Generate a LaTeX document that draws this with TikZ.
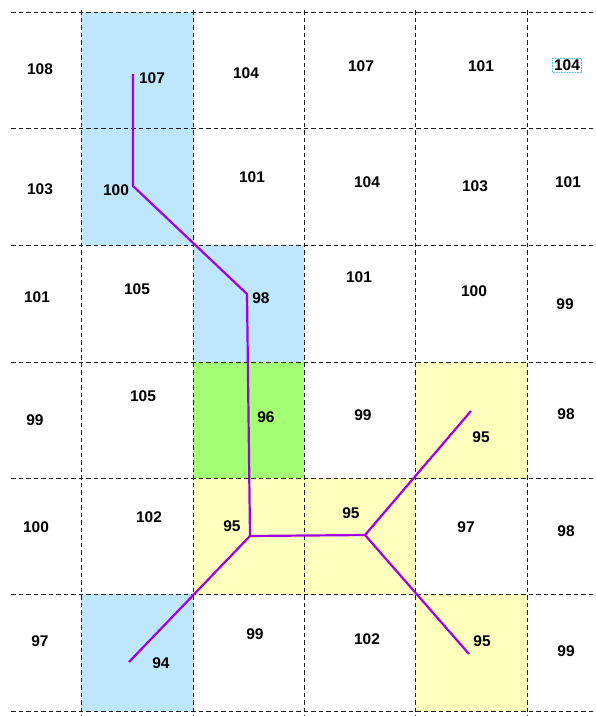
\documentclass[tikz,border=0pt]{standalone}
\usepackage{fontspec}
\setmainfont{Liberation Sans}
\usetikzlibrary{arrows.meta}
\definecolor{cellblue}{RGB}{190,230,253}
\definecolor{cellgreen}{RGB}{163,255,115}
\definecolor{cellyellow}{RGB}{255,255,190}
\definecolor{pathviolet}{RGB}{162,0,228}
\definecolor{gridgray}{RGB}{30,30,30}

\begin{document}
\begin{tikzpicture}[x=1pt, y=-1pt, font=\fontsize{15.5}{18}\selectfont\bfseries,
  grid/.style={gridgray, line width=0.9pt, dash pattern=on 4.5pt off 3pt},
  route/.style={pathviolet, line width=2.2pt, line join=round}]
  \useasboundingbox (0,0) rectangle (596,716);
  \fill[cellblue] (81,12) rectangle (193,245);
  \fill[cellblue] (193,245) rectangle (304,362);
  \fill[cellblue] (81,594) rectangle (193,711);
  \fill[cellgreen] (193,362) rectangle (304,478);
  \fill[cellyellow] (193,478) rectangle (415,594);
  \fill[cellyellow] (415,362) rectangle (527,478);
  \fill[cellyellow] (415,594) rectangle (527,711);
  \draw[grid] (11,12) -- (596,12);
  \draw[grid] (11,128) -- (596,128);
  \draw[grid] (11,245) -- (596,245);
  \draw[grid] (11,362) -- (596,362);
  \draw[grid] (11,478) -- (596,478);
  \draw[grid] (11,594) -- (596,594);
  \draw[grid] (11,711) -- (596,711);
  \draw[grid] (81,10) -- (81,716);
  \draw[grid] (193,10) -- (193,716);
  \draw[grid] (304,10) -- (304,716);
  \draw[grid] (415,10) -- (415,716);
  \draw[grid] (527,10) -- (527,716);
  \coordinate (p107) at (133,74);
  \coordinate (p100) at (133,186);
  \coordinate (p98) at (247,294);
  \coordinate (p95a) at (250,536);
  \coordinate (p95b) at (365,535);
  \coordinate (p94) at (129,662);
  \coordinate (p95c) at (471,411);
  \coordinate (p95d) at (469,654);
  \draw[route] (p107) -- (p100) -- (p98) -- (p95a) -- (p95b);
  \draw[route] (p95a) -- (p94);
  \draw[route] (p95b) -- (p95c);
  \draw[route] (p95b) -- (p95d);
  \node (v00) at (40,69) {108};
  \node (v01) at (152,78) {107};
  \node (v02) at (246,73) {104};
  \node (v03) at (361,66) {107};
  \node (v04) at (481,66) {101};
  \node[draw=cyan!70, densely dotted, line width=0.6pt, inner sep=1.5pt] (v05) at (567,65) {104};
  \node (v10) at (40,189) {103};
  \node (v11) at (116,190) {100};
  \node (v12) at (252,177) {101};
  \node (v13) at (367,182) {104};
  \node (v14) at (475,186) {103};
  \node (v15) at (568,182) {101};
  \node (v20) at (37,297) {101};
  \node (v21) at (137,289) {105};
  \node (v22) at (261,298) {98};
  \node (v23) at (359,277) {101};
  \node (v24) at (474,291) {100};
  \node (v25) at (565,304) {99};
  \node (v30) at (35,420) {99};
  \node (v31) at (143,396) {105};
  \node (v32) at (266,417) {96};
  \node (v33) at (363,415) {99};
  \node (v34) at (481,437) {95};
  \node (v35) at (566,414) {98};
  \node (v40) at (36,527) {100};
  \node (v41) at (149,517) {102};
  \node (v42) at (232,526) {95};
  \node (v43) at (351,513) {95};
  \node (v44) at (466,527) {97};
  \node (v45) at (566,531) {98};
  \node (v50) at (40,641) {97};
  \node (v51) at (161,663) {94};
  \node (v52) at (255,634) {99};
  \node (v53) at (367,639) {102};
  \node (v54) at (482,641) {95};
  \node (v55) at (566,651) {99};
\end{tikzpicture}
\end{document}
